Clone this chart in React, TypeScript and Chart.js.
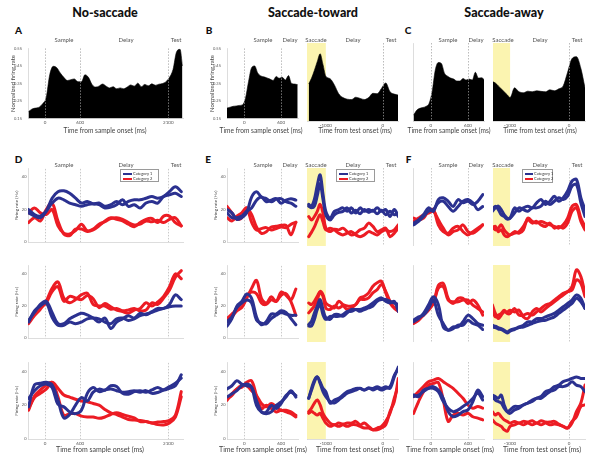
import React, { useEffect, useRef } from "react";
import { Chart, registerables } from "chart.js";

Chart.register(...registerables);

const FONT = "Lato, 'Open Sans', sans-serif";
Chart.defaults.font.family = FONT;

const BLUE = "#2b3190";
const RED = "#ec1c24";
const BLACK = "#000000";
const YELLOW = "#fbf4b0";

// ---------- Top row (normalized firing rate, population) ----------
const tA = [-280, -220, -160, -100, -40, 20, 80, 140, 200, 260, 320, 380, 440, 500, 560, 620, 680, 740, 800, 860, 920, 980, 1040, 1100, 1160, 1220, 1280, 1340, 1400, 1460, 1520, 1580, 1640, 1700, 1760, 1820, 1880, 1940, 2000, 2060, 2120, 2180, 2240, 2300, 2340];
const rateA = [0.19, 0.205, 0.21, 0.215, 0.235, 0.27, 0.4, 0.448, 0.44, 0.41, 0.385, 0.367, 0.372, 0.376, 0.36, 0.36, 0.4, 0.385, 0.345, 0.33, 0.335, 0.347, 0.335, 0.325, 0.332, 0.32, 0.325, 0.32, 0.33, 0.342, 0.335, 0.352, 0.332, 0.345, 0.337, 0.348, 0.34, 0.346, 0.35, 0.36, 0.385, 0.43, 0.53, 0.545, 0.45];

const tFillShort = [-280, -230, -180, -130, -80, -30, 20, 70, 120, 170, 220, 270, 320, 370, 420, 470, 520, 570, 620, 670, 720, 770, 820, 870];
const rateBLeft = [0.21, 0.215, 0.22, 0.222, 0.225, 0.228, 0.265, 0.36, 0.44, 0.45, 0.41, 0.393, 0.388, 0.382, 0.375, 0.367, 0.39, 0.38, 0.385, 0.37, 0.395, 0.35, 0.347, 0.343];
const rateCLeft = [0.18, 0.205, 0.215, 0.219, 0.225, 0.24, 0.3, 0.41, 0.45, 0.445, 0.395, 0.38, 0.37, 0.365, 0.355, 0.355, 0.368, 0.36, 0.365, 0.36, 0.4, 0.37, 0.372, 0.36];

const tTest = [-1300, -1250, -1200, -1150, -1100, -1050, -1000, -925, -850, -775, -700, -625, -550, -475, -400, -325, -250, -175, -100, -25, 50, 125, 200, 270];
const rateBRight = [0.34, 0.37, 0.41, 0.455, 0.495, 0.44, 0.38, 0.367, 0.335, 0.29, 0.27, 0.262, 0.26, 0.272, 0.266, 0.26, 0.27, 0.292, 0.29, 0.317, 0.345, 0.3, 0.288, 0.283];
const rateCRight = [0.352, 0.345, 0.33, 0.315, 0.3, 0.285, 0.27, 0.32, 0.3, 0.295, 0.303, 0.3, 0.305, 0.302, 0.3, 0.31, 0.305, 0.315, 0.33, 0.4, 0.47, 0.48, 0.42, 0.32];

const normTicks = [0.15, 0.25, 0.35, 0.45, 0.55];

// ---------- Single-neuron examples (Hz) ----------
const tLong = [-280, -180, -80, 20, 120, 220, 320, 420, 520, 620, 720, 820, 920, 1020, 1120, 1220, 1320, 1420, 1520, 1620, 1720, 1820, 1920, 2020, 2120, 2220, 2320];
const tShort = [-280, -200, -120, -40, 40, 120, 200, 280, 360, 440, 520, 600, 680, 760, 840];
const hzTicks = [0, 20, 40];

// D
const dR1Blue1 = [18, 16, 15, 19, 27, 31, 31.5, 30, 27, 24, 25, 23.5, 24, 22, 23, 25, 23, 25, 26, 26, 27, 28, 27, 28, 31, 34, 31];
const dR1Blue2 = [20, 17, 16, 19, 24, 27, 26, 24, 23, 22, 23, 23.5, 23, 21, 21.5, 23, 26, 22, 23, 21, 24, 25, 24, 28, 29, 30, 28];
const dR1Red1 = [12, 15, 13, 20, 24, 13, 5, 4, 8, 8, 6.5, 7.5, 10, 13, 15, 14, 13, 11, 9.5, 12, 14, 14.5, 12, 16, 16, 12, 10];
const dR1Red2 = [18, 21, 18, 17, 20, 10, 5.5, 5, 7, 11, 7, 8, 11, 12.5, 14.5, 15, 14, 12, 10.5, 11, 13, 12.5, 13.5, 12, 14, 15, 10];
const dR2Blue1 = [11, 16, 21, 23, 16, 9, 9, 12, 14, 15.5, 14.5, 12.5, 10, 12.5, 6, 10, 12, 14, 12.5, 15.5, 14.5, 16.5, 18.5, 18.5, 21, 27, 24];
const dR2Blue2 = [10, 17, 20, 22, 13, 8, 8, 10, 9, 10, 12, 12.5, 12, 10, 9, 12, 12.5, 11, 12, 14, 15, 16, 17.5, 18.5, 19.5, 20, 20];
const dR2Red1 = [9, 14, 18, 23, 31, 35, 25, 22, 24, 27, 28, 21, 20, 20, 18, 18.5, 17, 17.5, 18.5, 17, 17.5, 22, 21, 25, 30, 38, 42];
const dR2Red2 = [10, 15, 19, 22, 29, 32, 23, 26, 25, 24, 26.5, 24.5, 19, 21.5, 19.5, 17.5, 16.5, 15.5, 17.5, 18.5, 22, 20, 22.5, 26, 32, 40, 37];
const dR3Blue1 = [19, 32, 33, 33.5, 32, 23, 12.5, 14.5, 20, 24.5, 22.5, 27.7, 29.5, 28.8, 31.5, 31, 27, 26.5, 28, 28.5, 27.7, 29, 30.5, 29, 30, 31.5, 38];
const dR3Blue2 = [24, 28.5, 31.5, 32.5, 30.5, 20.5, 19, 16, 15, 17, 27, 30.5, 28, 29, 29.6, 28.5, 27.7, 28, 28.5, 27.7, 28.6, 27, 27.5, 29, 31, 33, 36];
const dR3Red1 = [17, 25.5, 29, 32, 33.5, 25, 14, 15, 15, 13.5, 13, 13, 12.2, 13, 14.5, 15.5, 14.5, 13.5, 12.5, 10.3, 10.3, 9.5, 10, 10.3, 11, 14, 28];
const dR3Red2 = [18, 24.5, 27, 29.5, 33.5, 30, 26, 24.8, 23.5, 22.5, 22, 21, 20, 17.5, 15.5, 14.5, 13, 11.5, 11.2, 11, 10.3, 9.5, 8.5, 8.3, 9.5, 13, 25];

// E
const eR1LBlue1 = [20, 18, 14, 15, 18, 27.7, 31, 27.7, 26.7, 24.8, 26.4, 26.7, 24.8, 23.9, 22];
const eR1LBlue2 = [18, 15, 15, 16, 19, 21, 25.8, 27.7, 24.8, 25.8, 26.7, 23.9, 25.8, 26.7, 25.8];
const eR1LRed1 = [22, 18, 14, 15, 21, 17, 9.3, 5.4, 6.4, 9.3, 9.7, 10.3, 10.3, 4.5, 12.2];
const eR1LRed2 = [15, 13, 16, 18, 21, 12.2, 7.4, 8.3, 8.9, 7.4, 8.3, 9.3, 8.9, 10.9, 12.2];
const eR1RBlue1 = [24, 23, 27, 35, 41, 30, 20, 16, 20, 21, 22, 20, 22, 19, 22, 20, 21, 20, 22, 20, 21, 17, 21, 17];
const eR1RBlue2 = [23, 22, 23, 29, 36, 27, 18, 15, 18, 19.4, 20, 22, 19, 20.6, 18.6, 21, 19.4, 20.6, 18.6, 20.6, 18, 20, 18, 19];
const eR1RRed1 = [17, 15, 17, 20, 24, 19, 10.3, 8.3, 9.7, 9.3, 10.3, 8.3, 6.4, 7.4, 9.3, 10.3, 13.2, 11.3, 8.3, 9.3, 10.3, 5.4, 7.4, 10.3];
const eR1RRed2 = [5.4, 8, 11, 15, 18, 14, 9.3, 10.3, 9.3, 7.4, 6.4, 7.4, 8.3, 6.4, 5.4, 6.4, 8.3, 7.4, 6.4, 8.3, 9.3, 8.3, 9.3, 12.2];
const eR2LBlue1 = [7.4, 12.2, 19.9, 22.8, 27.5, 24.8, 13.2, 8.3, 10.3, 15, 15, 17, 16, 12.2, 8.3];
const eR2LBlue2 = [10.3, 13.2, 19, 21.9, 23.8, 21.9, 11.2, 9.3, 8.9, 12.2, 14.2, 16, 15, 14.2, 14.2];
const eR2LRed1 = [10.3, 13.2, 17, 19, 24.8, 31, 36, 24.8, 21.9, 25.8, 22.8, 28.7, 26.7, 23.8, 30.6];
const eR2LRed2 = [12.2, 15, 17.9, 21.9, 26.7, 28.7, 27.7, 21.9, 21, 23.8, 22.8, 26.7, 27.7, 22.8, 14.2];
const eR2RBlue1 = [10.3, 12.2, 17, 21, 24.8, 19, 14.2, 13.2, 16, 16, 15, 17, 19, 19, 19, 19.9, 21, 22.8, 24.8, 25.8, 23.8, 22.8, 23.8, 17.9];
const eR2RBlue2 = [9.3, 9.3, 13.2, 19, 21.9, 16, 13.2, 15, 15, 15, 16, 17.9, 17.9, 19, 17.9, 19, 19.9, 21, 23.8, 24.8, 24.8, 23.8, 22.8, 21.9];
const eR2RRed1 = [22.8, 21.9, 23.8, 26.7, 29.6, 27.7, 22.8, 21, 19.9, 23.8, 21.9, 21, 21, 21.9, 25.8, 26.7, 28.7, 32.6, 34.6, 35.5, 28.7, 22.8, 19.9, 19];
const eR2RRed2 = [17, 19, 21, 24.8, 29, 26.7, 19.9, 19, 21, 19.9, 21, 19, 19.9, 21.9, 24.8, 24.8, 25.8, 28.7, 30.6, 33.6, 29.6, 23.8, 19.9, 17.9];
const eR3LBlue1 = [29.6, 31.5, 34.4, 32.5, 31.5, 30.6, 22.8, 16, 15, 16, 19.9, 21.9, 24.8, 28.6, 24.8];
const eR3LBlue2 = [24.8, 26.7, 28.6, 31.5, 32.5, 30.6, 19.9, 16, 16, 19.9, 18, 21, 25.7, 27.7, 25.7];
const eR3LRed1 = [22.8, 26.7, 29.6, 30.6, 33.5, 34.4, 25.7, 18, 19.9, 18, 16, 17, 16, 15, 13];
const eR3LRed2 = [23.8, 25.7, 29.6, 31.5, 31.5, 28.6, 25.7, 21, 19, 21, 19, 17, 17, 16, 14];
const eR3RBlue1 = [23.8, 29.6, 34.4, 36.3, 33.4, 29.6, 27.7, 21, 22.8, 23.8, 25.7, 27.7, 28.6, 29.6, 29.6, 28.6, 29.6, 29.6, 30.6, 29.6, 30.6, 29.6, 36.3, 42];
const eR3RBlue2 = [23.8, 28.6, 33.4, 36.3, 32.5, 27.7, 24.8, 21.9, 21, 22.8, 24.8, 26.7, 27.7, 28.6, 29.6, 28.6, 30, 28.6, 29.6, 28.6, 29.6, 30.6, 37.2, 41];
const eR3RRed1 = [16, 18, 21, 22.8, 19.9, 15, 12.2, 9.3, 8.3, 9.3, 8.7, 9.3, 9.3, 10.3, 8.3, 9.3, 7.4, 5.4, 5.4, 6.4, 8.3, 16, 21.9, 35.4];
const eR3RRed2 = [15, 16, 15, 14, 15, 12.2, 9.3, 7.4, 8.3, 7.4, 8.3, 7.4, 8.3, 8.3, 7.4, 6.4, 6.4, 5.4, 6.4, 7.4, 10.3, 15, 23.8, 31.5];

// F
const fR1LBlue1 = [13.2, 15.1, 18, 22, 20, 26.8, 27.8, 25.8, 22.8, 26.8, 24.9, 25.8, 23.9, 25.8, 29.7];
const fR1LBlue2 = [12.2, 14.2, 17, 20, 21, 24.9, 25.8, 22.8, 20, 22.8, 25.8, 26.8, 24.9, 21, 22.8];
const fR1LRed1 = [16.1, 15.1, 16.1, 20, 21, 12.2, 8.3, 7.4, 10.3, 11.3, 8.3, 6.4, 8.3, 10.3, 12.2];
const fR1LRed2 = [14.2, 16.1, 18, 19, 20, 15.1, 10.3, 6.4, 8.3, 9.3, 12.2, 8.3, 7.4, 9.3, 12.2];
const fR1RBlue1 = [20, 22, 23, 21, 18, 16.1, 16.1, 22, 20, 22, 23, 22, 24.9, 26.8, 23.9, 25.8, 28.7, 25.8, 27.8, 31.7, 37.5, 38.4, 27.8, 21];
const fR1RBlue2 = [21, 23, 21, 18, 17, 15.5, 16.1, 19, 22, 21, 20, 22, 22, 23, 25.8, 23.9, 25.8, 27.8, 26.8, 28.7, 34.6, 35.5, 24.9, 17];
const fR1RRed1 = [11.3, 9.3, 10.3, 12.2, 9.3, 7.4, 6.4, 8.3, 7.4, 9.3, 16.1, 14.2, 13.2, 14.2, 13.2, 12.2, 11.3, 10.3, 12.2, 16.1, 22.9, 23.9, 16.1, 11.3];
const fR1RRed2 = [10.3, 11.3, 8.3, 9.3, 6.4, 5.4, 6.4, 7.4, 8.3, 11.3, 15.1, 13.2, 14.2, 12.2, 11.3, 13.2, 10.3, 11.3, 10.3, 13.2, 20, 22, 14.2, 9.3];
const fR2LBlue1 = [11.8, 13.7, 16.7, 21.6, 26.5, 22, 8.8, 6.9, 8.8, 8.8, 11.8, 15.7, 13.7, 10.8, 9.8];
const fR2LBlue2 = [12.7, 14.7, 15.7, 19.6, 24.5, 15.7, 10.8, 6.9, 7.8, 9.8, 9.8, 12.7, 10.8, 9.8, 7.3];
const fR2LRed1 = [11.8, 13.7, 15.7, 20.6, 22.5, 33, 34.3, 25.5, 22.5, 25.5, 25.5, 22.5, 24.5, 21.6, 15.7];
const fR2LRed2 = [10.8, 12.7, 15.7, 18.6, 22.5, 31.4, 32.4, 24.5, 23.5, 23.5, 24.5, 24.5, 21.6, 19.6, 17.6];
const fR2RBlue1 = [9.8, 9.2, 8.4, 7.8, 6.9, 5.9, 6.9, 7.8, 8.8, 9.8, 11.8, 11.8, 13.7, 13.7, 14.7, 15.7, 16.7, 18.6, 20.6, 22.5, 24.5, 27.5, 25.5, 19.6];
const fR2RBlue2 = [8.8, 8.4, 7.6, 7.3, 6.3, 5.3, 6.3, 7.3, 8.4, 8.8, 9.8, 10.8, 11.8, 12.4, 12.7, 13.7, 14.7, 16.7, 18.6, 20.6, 22.5, 25.5, 23.5, 19.6];
const fR2RRed1 = [21.6, 16.7, 13.7, 15.7, 17.6, 17.6, 18.6, 17.6, 18.6, 14.7, 13.7, 17.6, 19.6, 17.6, 19.6, 21.6, 23.5, 25.5, 27.5, 29.4, 32.4, 42.2, 38.2, 28.4];
const fR2RRed2 = [18.6, 14.7, 15.7, 16.7, 18.6, 16.7, 16.7, 19.6, 15.7, 15.7, 16.7, 15.7, 17.6, 19.6, 21.6, 22.5, 24.5, 26.5, 28.4, 29.4, 30.4, 36.3, 34.3, 26.5];
const fR3LBlue1 = [24.8, 25.7, 27.7, 29.6, 30.6, 28.6, 23.8, 16, 13, 14, 16, 17, 21.9, 28.6, 24.8];
const fR3LBlue2 = [25.7, 24.8, 28.6, 29.6, 29.6, 27.7, 21.9, 18, 16, 17, 19, 21, 23.8, 26.7, 22.8];
const fR3LRed1 = [24.8, 27.7, 30.6, 33.5, 34.4, 35.4, 33.5, 31.5, 29.6, 26.7, 23.8, 19.9, 18, 19, 18];
const fR3LRed2 = [15, 21.9, 27.7, 31.5, 32.5, 33, 22.8, 10.3, 14, 15, 14, 15, 13, 12.2, 11.2];
const fR3RBlue1 = [25.7, 24.8, 23.8, 25.7, 19.9, 16, 15, 17, 18, 19.9, 21, 21.9, 23.8, 24.8, 27.7, 28.6, 30.6, 31.5, 33.5, 34.4, 35.4, 36.3, 35.4, 35.4];
const fR3RBlue2 = [24.8, 22.8, 21.9, 21, 18, 16, 17, 19, 19, 19.9, 21, 22.8, 23.8, 23.8, 25.7, 27.7, 28.6, 30.6, 30.6, 31.5, 33.5, 31.5, 30.6, 27.7];
const fR3RRed1 = [16, 14, 15, 13, 11.2, 10.3, 9.3, 10.3, 9.3, 10.3, 9.9, 10.7, 9.3, 10.7, 9.9, 9.9, 10.3, 8.7, 7.4, 6.4, 9.3, 16, 21, 31.5];
const fR3RRed2 = [11.2, 9.3, 8.3, 7.4, 5.4, 4.5, 7.4, 8.3, 9.3, 8.3, 9.3, 8.3, 9.3, 8.3, 9.3, 8.3, 8.7, 8.3, 7.4, 6.4, 10.3, 13, 19, 20];

const legendLabels = ["Category 1", "Category 2"];
const columnTitles = ["No-saccade", "Saccade-toward", "Saccade-away"];
const sampleTicks = [0, 600, 2100];
const shortTicks = [0, 600];
const testTicks = [-1000, 0];

// ---------- layout ----------
const PAD_T = 3;
const PAD_R = 2;

type Series = { values: number[]; color: string };
type Spec = {
  left: number; top: number; width: number; height: number;
  times: number[]; series: Series[]; fill?: boolean;
  xMin: number; xMax: number; xTicks: number[]; xLabels: boolean; xAxisH: number;
  yMin: number; yMax: number; yTicks: number[]; yLabels: boolean; yTitle?: string; yTitleSize?: number; yAxisW: number; yPad: number; yDec: number;
  band?: boolean; vlines: number[];
};

function Plot({ spec }: { spec: Spec }) {
  const ref = useRef<HTMLCanvasElement>(null);
  useEffect(() => {
    const canvas = ref.current;
    if (!canvas) return;
    const datasets: any[] = [];
    for (const s of spec.series) {
      const pts = spec.times.map((t, i) => ({ x: t, y: s.values[i] }));
      if (spec.fill) {
        datasets.push({ data: pts, borderColor: s.color, backgroundColor: s.color, borderWidth: 0.6, fill: "start", pointRadius: 0, cubicInterpolationMode: "monotone" });
      } else {
        datasets.push({ data: pts, borderColor: s.color, borderWidth: 3, fill: false, pointRadius: 0, tension: 0.35, borderCapStyle: "round", borderJoinStyle: "round" });
        datasets.push({ data: pts, borderColor: "rgba(255,255,255,0.5)", borderWidth: 0.7, fill: false, pointRadius: 0, tension: 0.35 });
      }
    }
    const drawV = (chart: any) => {
      const { ctx, chartArea: a, scales } = chart;
      ctx.save();
      ctx.setLineDash([1.5, 1.5]);
      ctx.strokeStyle = spec.fill ? "rgba(160,160,160,0.9)" : "#bdbdbd";
      ctx.lineWidth = 0.8;
      for (const v of spec.vlines) {
        const px = Math.round(scales.x.getPixelForValue(v)) + 0.5;
        ctx.beginPath();
        ctx.moveTo(px, a.top);
        ctx.lineTo(px, a.bottom);
        ctx.stroke();
      }
      ctx.restore();
    };
    const deco = {
      id: "deco",
      beforeDatasetsDraw(chart: any) {
        const { ctx, chartArea: a, scales } = chart;
        if (spec.band) {
          const x0 = a.left;
          const x1 = scales.x.getPixelForValue(-1000);
          ctx.save();
          ctx.fillStyle = YELLOW;
          ctx.fillRect(x0, a.top, x1 - x0, a.bottom - a.top);
          ctx.restore();
        }
        if (!spec.fill) drawV(chart);
      },
      afterDatasetsDraw(chart: any) {
        if (spec.fill) drawV(chart);
      },
    };
    const chart = new Chart(canvas, {
      type: "line",
      data: { datasets },
      options: {
        responsive: false,
        animation: false,
        devicePixelRatio: 1,
        events: [],
        layout: { padding: { top: PAD_T, right: PAD_R, left: 0, bottom: 0 } },
        plugins: { legend: { display: false }, tooltip: { enabled: false } },
        scales: {
          x: {
            type: "linear",
            min: spec.xMin,
            max: spec.xMax,
            afterBuildTicks: (s: any) => { s.ticks = spec.xTicks.map((v) => ({ value: v })); },
            afterFit: (s: any) => { s.height = spec.xAxisH; },
            grid: { display: false, drawTicks: false },
            border: { display: true, color: "#d4d4d4", width: 0.8 },
            ticks: { display: spec.xLabels, font: { size: 4.5, family: FONT }, color: "#555", padding: 1.5, maxRotation: 0, autoSkip: false, callback: (v: any) => String(v) },
          },
          y: {
            type: "linear",
            min: spec.yMin,
            max: spec.yMax,
            afterBuildTicks: (s: any) => { s.ticks = spec.yTicks.map((v) => ({ value: v })); },
            afterFit: (s: any) => { s.width = spec.yAxisW; },
            grid: { display: false, drawTicks: false },
            border: { display: true, color: "#d4d4d4", width: 0.8 },
            ticks: { display: spec.yLabels, font: { size: 4, family: FONT }, color: "#555", padding: spec.yPad, autoSkip: false, callback: (v: any) => Number(v).toFixed(spec.yDec) },
            title: spec.yTitle
              ? { display: true, text: spec.yTitle, font: { size: spec.yTitleSize || 5, family: FONT }, color: "#444", padding: 0 }
              : { display: false },
          },
        },
      } as any,
      plugins: [deco],
    });
    return () => chart.destroy();
  }, []);
  const w = spec.width + spec.yAxisW + PAD_R;
  const h = spec.height + spec.xAxisH + PAD_T;
  return (
    <canvas
      ref={ref}
      width={w}
      height={h}
      style={{ position: "absolute", left: spec.left - spec.yAxisW, top: spec.top - PAD_T, width: w, height: h }}
    />
  );
}

function Txt({ x, y, size, children, weight = 400, color = "#444" }: any) {
  return (
    <div
      style={{
        position: "absolute", left: x, top: y, transform: "translate(-50%, -50%)",
        fontFamily: FONT, fontSize: size, fontWeight: weight, color, whiteSpace: "nowrap", lineHeight: 1,
      }}
    >
      {children}
    </div>
  );
}

function Legend({ left, top, width, height, swatch = 9 }: any) {
  const colors = [BLUE, RED];
  return (
    <div style={{ position: "absolute", left, top, width, height, border: "0.6px solid #9a9a9a", background: "#fff", boxSizing: "border-box" }}>
      {legendLabels.map((label, i) => (
        <div key={label} style={{ position: "absolute", left: 1.5, top: 1.5 + i * 5.5, height: 4.5, display: "flex", alignItems: "center", whiteSpace: "nowrap" }}>
          <div style={{ width: swatch, height: 2, background: colors[i], flex: "none" }} />
          <span style={{ fontFamily: FONT, fontSize: 4, marginLeft: 1.5, color: "#333", lineHeight: 1, whiteSpace: "nowrap" }}>{label}</span>
        </div>
      ))}
    </div>
  );
}

const colA = { left: 28, width: 155, xMin: -290, xMax: 2350 };
const colBL = { left: 227, width: 71, xMin: -280, xMax: 875 };
const colBR = { left: 307, width: 91, xMin: -1330, xMax: 265 };
const colCL = { left: 413, width: 71, xMin: -290, xMax: 860 };
const colCR = { left: 493, width: 92, xMin: -1290, xMax: 270 };
const topRow = { top: 43, height: 78 };
const lineRows = [
  { top: 168, height: 78 },
  { top: 265, height: 77 },
  { top: 362, height: 77 },
];

function topSpec(col: any, times: number[], values: number[], ticks: number[], yLabels: boolean, band: boolean, vlines: number[]): Spec {
  return {
    ...col, ...topRow, times, series: [{ values, color: BLACK }], fill: true,
    xTicks: ticks, xLabels: true, xAxisH: 6,
    yMin: 0.15, yMax: 0.55, yTicks: normTicks, yLabels, yTitle: yLabels ? "Normalized firing rate" : undefined, yTitleSize: 6,
    yAxisW: yLabels ? 19 : 0, yPad: 6, yDec: 2, band, vlines,
  };
}

function lineSpec(col: any, r: number, times: number[], b1: number[], b2: number[], r1: number[], r2: number[], ticks: number[], yLabels: boolean, band: boolean, vlines: number[]): Spec {
  const last = r === 2;
  return {
    ...col, ...lineRows[r], times,
    series: [{ values: b1, color: BLUE }, { values: b2, color: BLUE }, { values: r1, color: RED }, { values: r2, color: RED }],
    xTicks: ticks, xLabels: last, xAxisH: last ? 8 : 0,
    yMin: 0, yMax: 45, yTicks: hzTicks, yLabels, yTitle: yLabels ? "Firing rate (Hz)" : undefined, yTitleSize: 4.6,
    yAxisW: yLabels ? 14 : 0, yPad: 1.5, yDec: 0, band, vlines,
  };
}

const D = [
  [dR1Blue1, dR1Blue2, dR1Red1, dR1Red2],
  [dR2Blue1, dR2Blue2, dR2Red1, dR2Red2],
  [dR3Blue1, dR3Blue2, dR3Red1, dR3Red2],
];
const EL = [
  [eR1LBlue1, eR1LBlue2, eR1LRed1, eR1LRed2],
  [eR2LBlue1, eR2LBlue2, eR2LRed1, eR2LRed2],
  [eR3LBlue1, eR3LBlue2, eR3LRed1, eR3LRed2],
];
const ER = [
  [eR1RBlue1, eR1RBlue2, eR1RRed1, eR1RRed2],
  [eR2RBlue1, eR2RBlue2, eR2RRed1, eR2RRed2],
  [eR3RBlue1, eR3RBlue2, eR3RRed1, eR3RRed2],
];
const FL = [
  [fR1LBlue1, fR1LBlue2, fR1LRed1, fR1LRed2],
  [fR2LBlue1, fR2LBlue2, fR2LRed1, fR2LRed2],
  [fR3LBlue1, fR3LBlue2, fR3LRed1, fR3LRed2],
];
const FR = [
  [fR1RBlue1, fR1RBlue2, fR1RRed1, fR1RRed2],
  [fR2RBlue1, fR2RBlue2, fR2RRed1, fR2RRed2],
  [fR3RBlue1, fR3RBlue2, fR3RRed1, fR3RRed2],
];

const specs: Spec[] = [
  topSpec(colA, tA, rateA, sampleTicks, true, false, sampleTicks),
  topSpec(colBL, tFillShort, rateBLeft, shortTicks, true, false, shortTicks),
  topSpec(colBR, tTest, rateBRight, testTicks, false, true, [0]),
  topSpec(colCL, tFillShort, rateCLeft, shortTicks, false, false, shortTicks),
  topSpec(colCR, tTest, rateCRight, testTicks, false, true, [0]),
];
for (let r = 0; r < 3; r++) {
  specs.push(lineSpec(colA, r, tLong, D[r][0], D[r][1], D[r][2], D[r][3], sampleTicks, true, false, sampleTicks));
  specs.push(lineSpec(colBL, r, tShort, EL[r][0], EL[r][1], EL[r][2], EL[r][3], shortTicks, true, false, shortTicks));
  specs.push(lineSpec(colBR, r, tTest, ER[r][0], ER[r][1], ER[r][2], ER[r][3], testTicks, false, true, [0]));
  specs.push(lineSpec(colCL, r, tShort, FL[r][0], FL[r][1], FL[r][2], FL[r][3], shortTicks, false, false, shortTicks));
  specs.push(lineSpec(colCR, r, tTest, FR[r][0], FR[r][1], FR[r][2], FR[r][3], testTicks, false, true, [0]));
}

const epochsA = [["Sample", 64], ["Delay", 126], ["Test", 176]];
const epochsB = [["Sample", 263], ["Delay", 290], ["Saccade", 316], ["Delay", 353], ["Test", 391]];
const epochsC = [["Sample", 448], ["Delay", 476], ["Saccade", 503], ["Delay", 540], ["Test", 577]];
const sampleTitle = "Time from sample onset (ms)";
const testTitle = "Time from test onset (ms)";

export default function App() {
  const epochs = [...epochsA, ...epochsB, ...epochsC];
  return (
    <div style={{ position: "absolute", left: 0, top: 0, width: 600, height: 458, background: "#fff", overflow: "hidden" }}>
      {specs.map((s, i) => (
        <Plot key={i} spec={s} />
      ))}
      <Txt x={105} y={13} size={12.5} weight={900} color="#111">{columnTitles[0]}</Txt>
      <Txt x={313} y={13} size={12.5} weight={900} color="#111">{columnTitles[1]}</Txt>
      <Txt x={504} y={13} size={12.5} weight={900} color="#111">{columnTitles[2]}</Txt>
      <Txt x={18.5} y={30} size={10} weight={900} color="#111">A</Txt>
      <Txt x={209} y={30} size={10} weight={900} color="#111">B</Txt>
      <Txt x={408} y={30} size={10} weight={900} color="#111">C</Txt>
      <Txt x={18.5} y={158.5} size={10} weight={900} color="#111">D</Txt>
      <Txt x={208} y={158.5} size={10} weight={900} color="#111">E</Txt>
      <Txt x={408.5} y={158.5} size={10} weight={900} color="#111">F</Txt>
      {epochs.map(([t, x], i) => (
        <Txt key={"t" + i} x={x} y={40} size={6} color="#555">{t}</Txt>
      ))}
      {epochs.map(([t, x], i) => (
        <Txt key={"d" + i} x={x} y={165} size={6} color="#555">{t}</Txt>
      ))}
      <Txt x={105} y={130} size={6.6} color="#444">{sampleTitle}</Txt>
      <Txt x={261} y={130} size={6.6} color="#444">{sampleTitle}</Txt>
      <Txt x={355} y={130} size={6.6} color="#444">{testTitle}</Txt>
      <Txt x={449} y={130} size={6.6} color="#444">{sampleTitle}</Txt>
      <Txt x={540} y={130} size={6.6} color="#444">{testTitle}</Txt>
      <Txt x={100} y={448.5} size={7} color="#444">{sampleTitle}</Txt>
      <Txt x={263} y={448.5} size={7} color="#444">{sampleTitle}</Txt>
      <Txt x={355} y={448.5} size={7} color="#444">{testTitle}</Txt>
      <Txt x={450} y={448.5} size={7} color="#444">{sampleTitle}</Txt>
      <Txt x={542} y={448.5} size={7} color="#444">{testTitle}</Txt>
      <Legend left={120} top={169} width={39} height={13} />
      <Legend left={336} top={169} width={39} height={13} />
      <Legend left={522} top={169} width={31} height={14} swatch={8} />
    </div>
  );
}
